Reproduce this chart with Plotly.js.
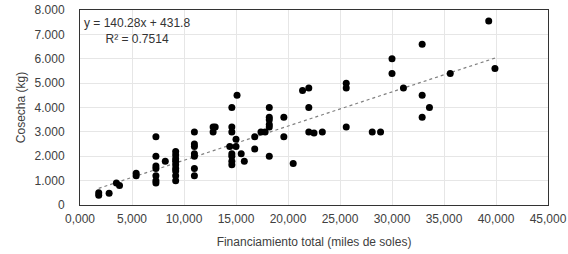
<!DOCTYPE html>
<html>
<head>
<meta charset="utf-8">
<script src="https://cdn.plot.ly/plotly-3.0.1.min.js"></script>
<style>html,body{margin:0;padding:0;background:#fff;}#chart{width:568px;height:254px;}</style>
</head>
<body>
<div id="chart"></div>
<script>
// Financiamiento total (miles de soles)
const financiamiento = [1.8,1.8,2.8,3.5,3.8,5.4,5.4,
  7.3,7.3,7.3,7.3,7.3,7.3,7.3,
  8.2,
  9.2,9.2,9.2,9.2,9.2,9.2,9.2,9.2,9.2,
  11.0,11.0,11.0,11.0,11.0,11.0,11.0,
  12.8,13.0,12.8,
  15.1,14.6,14.6,14.6,15.0,14.4,15.0,14.6,14.6,14.6,14.6,15.5,15.8,
  16.8,16.8,
  17.4,17.8,
  18.2,18.2,18.2,18.2,18.2,18.2,
  19.6,19.6,
  20.5,
  21.4,22.0,22.0,22.0,22.5,23.3,
  25.6,25.6,25.6,
  28.1,28.9,
  30.0,30.0,
  31.1,
  32.9,32.9,33.6,32.9,
  35.6,
  39.3,39.9];
// Cosecha (kg)
const cosecha = [500,400,480,900,800,1300,1200,
  2800,2000,1600,1500,1200,1000,900,
  1800,
  2200,2050,1900,1800,1650,1500,1400,1200,1000,
  3000,2500,2400,2100,2000,1500,1200,
  3200,3200,3000,
  4500,4000,3200,3000,2700,2400,2400,2100,2000,1800,1650,2100,1800,
  2800,2300,
  3000,3000,
  4000,3600,3500,3300,3200,2000,
  3600,2800,
  1700,
  4700,4800,4000,3000,2950,3000,
  5000,4800,3200,
  3000,3000,
  6000,5400,
  4800,
  6600,4500,4000,3600,
  5400,
  7550,5600];
// Linear trend reported on the chart
const slope = 140.28, intercept = 431.8;
const trendText = "y = 140.28x + 431.8<br>R² = 0.7514";
const xTickVals = [0,5,10,15,20,25,30,35,40,45];
const yTickVals = [0,1000,2000,3000,4000,5000,6000,7000,8000];

const xMin = Math.min(...financiamiento), xMax = Math.max(...financiamiento);
const trendX = [xMin, xMax];
const trendY = trendX.map(x => slope * x + intercept);

const font = {family: 'Liberation Sans, Arial, sans-serif', size: 12, color: '#404040'};

const data = [
  {x: trendX, y: trendY, type: 'scatter', mode: 'lines',
   line: {color: '#808080', width: 1.2, dash: 'dot'}, hoverinfo: 'skip'},
  {x: financiamiento, y: cosecha, type: 'scatter', mode: 'markers',
   marker: {color: '#000000', size: 7}}
];

const layout = {
  width: 568, height: 254,
  margin: {l: 80, r: 20, t: 10, b: 49},
  paper_bgcolor: '#ffffff', plot_bgcolor: '#ffffff',
  showlegend: false,
  separators: ',.',
  font: font,
  xaxis: {
    range: [0, 45], tickvals: xTickVals, tickformat: '.3f',
    showgrid: true, gridcolor: '#e6e6e6', gridwidth: 1,
    zeroline: false, showline: true, mirror: true, linecolor: '#333333', linewidth: 1,
    ticks: 'outside', ticklen: 3, tickcolor: 'rgba(0,0,0,0)',
    tickfont: font,
    title: {text: 'Financiamiento total (miles de soles)', font: font, standoff: 12}
  },
  yaxis: {
    range: [0, 8000], tickvals: yTickVals, tickformat: ',d',
    showgrid: true, gridcolor: '#e6e6e6', gridwidth: 1,
    zeroline: false, showline: true, mirror: true, linecolor: '#333333', linewidth: 1,
    ticks: 'outside', ticklen: 12, tickcolor: 'rgba(0,0,0,0)',
    tickfont: font,
    title: {text: 'Cosecha (kg)', font: font, standoff: 6}
  },
  annotations: [{
    xref: 'paper', yref: 'paper', x: 0.121, y: 0.89,
    xanchor: 'center', yanchor: 'middle', align: 'center',
    text: trendText, showarrow: false, font: {family: font.family, size: 12, color: '#333333'}
  }]
};

Plotly.newPlot('chart', data, layout, {displayModeBar: false, staticPlot: true});
</script>
</body>
</html>
